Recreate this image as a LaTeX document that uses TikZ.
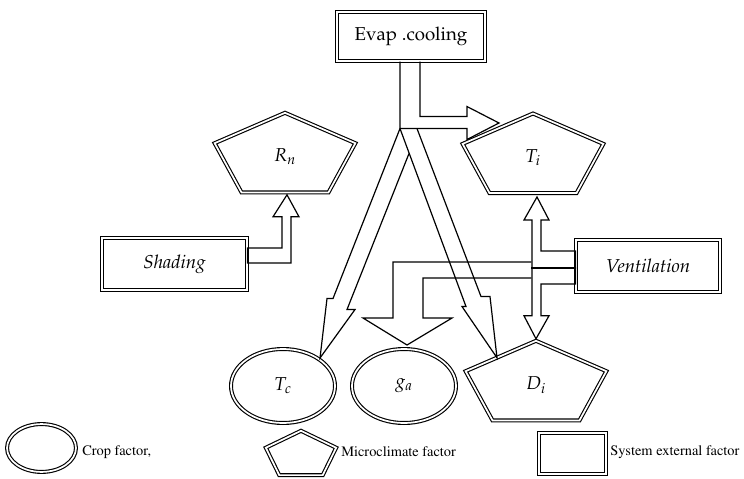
\documentclass[tikz,border=0pt]{standalone}
\usepackage[T1]{fontenc}
\usepackage{mathpazo}
\usetikzlibrary{shapes.geometric,calc}

\tikzset{
  dbl/.style={draw,double,double distance=1.3pt,line width=0.85pt},
  factor/.style={dbl,inner sep=0pt,font=\fontsize{14}{16}\selectfont},
  extbox/.style={factor,rectangle},
  crop/.style={factor,ellipse,minimum width=78pt,minimum height=55.5pt},
  micro/.style={inner sep=0pt,font=\fontsize{14}{16}\selectfont},
  fat/.style={line width=0.9pt,line join=miter},
  legend/.style={anchor=west,inner sep=0pt,font=\fontfamily{ptm}\fontsize{10.8}{12}\selectfont}
}
% pentagon round a node: name, x radius, y radius
\newcommand{\pentagon}[3]{%
  \draw[dbl] ($(#1)+(-90:#2 and #3)$) -- ($(#1)+(-18:#2 and #3)$)
    -- ($(#1)+(54:#2 and #3)$) -- ($(#1)+(126:#2 and #3)$)
    -- ($(#1)+(198:#2 and #3)$) -- cycle;}

\begin{document}
\begin{tikzpicture}[x=0.75pt,y=-0.75pt]
  \useasboundingbox (0,0) rectangle (744,479);

  % system external factors
  \node[extbox,minimum width=111pt,minimum height=36.7pt] (evap) at (411,36.5) {Evap .cooling};
  \node[extbox,minimum width=108.7pt,minimum height=39pt] (shading) at (174.5,264) {\textit{Shading}};
  \node[extbox,minimum width=108pt,minimum height=39pt] (vent) at (648,266) {\textit{Ventilation}};

  % microclimate factors
  \node[micro] (Rn) at (285,156.8) {$R_n$};
  \node[micro] (Ti) at (533,157.5) {$T_i$};
  \node[micro] (Di) at (536,384.8) {$D_i$};
  \foreach \m in {Rn,Ti,Di}
    \pentagon{\m}{74}{44};

  % crop factors
  \node[crop] (Tc) at (283,386) {$T_c$};
  \node[crop] (ga) at (404,386) {$g_a$};

  % evap. cooling
  \coordinate (apex) at ($(evap.south)+(-11,67)$);
  \draw[fat] ($(evap.south)+(9,0)$) |- ($(apex)+(67,-12)$) -- ++(0,-10)
    -- ($(Ti)+(-34,-34.5)$) -- ($(apex)+(67,11)$) -- ++(0,-11) -- (apex)
    -- ($(evap.south)+(-11,0)$);
  \draw[fat,shift={(apex)}] (0,0) -- (-67,170) -- (-73,170) -- ($(Tc)+(37,-28)$)
    -- (-45,181) -- (-53,181) -- (9,25);
  \draw[fat,shift={(apex)}] (17,0) -- (81,168) -- (90,168) -- ($(Di)+(-39,-27)$)
    -- (62,178) -- (66,178) -- (0,0);

  % shading
  \draw[fat] ($(shading.east)+(0,-16)$) -| ($(Rn)+(-3,60)$) -- ++(-9,0)
    -- ($(Rn)+(2,38)$) -- ++(12,22) -- ++(-8,0) |- ($(shading.east)+(0,-1)$) -- cycle;

  % ventilation
  \draw[fat] ($(vent.west)+(0,-15)$) -| ($(Ti)+(8,62.5)$) -- ++(8,0)
    -- ($(Ti)+(4,39.5)$) -- ++(-13,23) -- ++(8,0) |- ($(vent.west)+(0,2)$) -- cycle;
  \draw[fat] ($(vent.west)+(0,2)$) -| ($(Di)+(-4,-69)$) -- ++(-8,0)
    -- ($(Di)+(0,-46)$) -- ++(13,-23) -- ++(-8,0) |- ($(vent.west)+(0,18)$) -- cycle;
  \draw[fat,line width=1.6pt] ($(vent.west)+(-44,2)$) -- ($(vent.west)+(0,2)$);
  \draw[fat] ($(vent.west)+(-44,-4)$) -| ($(ga)+(-11,-68)$) -- ++(-30,0)
    -- ($(ga)+(3,-41)$) -- ++(45,-27) -- ++(-29,0) |- ($(vent.west)+(-44,12)$);

  % legend
  \node[crop,minimum width=51.7pt,minimum height=35.9pt] (lcrop) at (41.5,448) {};
  \node[legend] (lcroptext) at (82,452) {Crop factor,};
  \coordinate (lmicro) at (301,455.3);
  \pentagon{lmicro}{37}{24.5};
  \node[legend] (lmicrotext) at (341,452) {Microclimate factor};
  \node[extbox,minimum width=50.2pt,minimum height=30.7pt] (lext) at (572.5,453.5) {};
  \node[legend] (lexttext) at (610,452) {System external factor};
\end{tikzpicture}
\end{document}
